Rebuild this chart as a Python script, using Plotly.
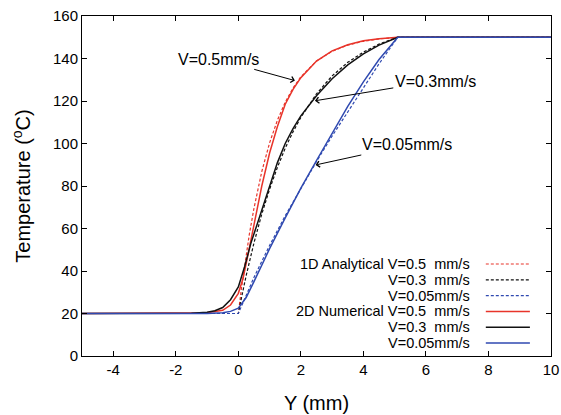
import plotly.graph_objects as go

# ---- data ----
x_an05 = [-5, 0, 0.1, 0.2, 0.35, 0.5, 0.75, 1.0, 1.25, 1.5, 1.75, 2.0, 2.5, 3.0, 3.5, 4.0, 4.5, 5.1, 10]
t_an05 = [20, 20, 31.9, 42.7, 57.1, 69.5, 86.8, 100.3, 111.0, 119.4, 126.1, 131.4, 138.8, 143.4, 146.3, 148.1, 149.2, 150, 150]

x_an03 = [-5, 0, 0.1, 0.25, 0.5, 0.75, 1.0, 1.25, 1.5, 1.75, 2.0, 2.5, 3.0, 3.5, 4.0, 4.5, 5.1, 10]
t_an03 = [20, 20, 27.4, 37.8, 53.2, 66.8, 78.5, 88.8, 97.8, 105.5, 112.3, 123.4, 131.8, 138.2, 143.0, 146.8, 150, 150]

x_an005 = [-5, 0, 0.5, 1.0, 1.5, 2.0, 2.5, 3.0, 3.5, 4.0, 4.5, 5.1, 10]
t_an005 = [20, 20, 37, 52, 66, 79, 91.5, 103.5, 115, 126.5, 137.5, 150, 150]

x_nu05 = [-5, -1.5, -1.0, -0.5, -0.25, 0, 0.15, 0.3, 0.5, 0.75, 1.0, 1.25, 1.5, 1.75, 2.0, 2.5, 3.0, 3.5, 4.0, 4.5, 5.1, 10]
t_nu05 = [20, 20, 20.3, 21.5, 24, 29.5, 36.5, 47, 62, 80, 95.5, 108, 118.5, 125.5, 131, 138.8, 143.6, 146.5, 148.3, 149.3, 150, 150]

x_nu03 = [-5, -1.5, -1.0, -0.75, -0.5, -0.25, 0, 0.2, 0.4, 0.75, 1.0, 1.25, 1.5, 1.75, 2.0, 2.5, 3.0, 3.5, 4.0, 4.5, 5.1, 10]
t_nu03 = [20, 20.1, 20.6, 21.3, 22.8, 26.5, 32.5, 42, 53, 69, 80.5, 91, 100, 107, 113, 122.5, 130.5, 137, 142.2, 146.3, 150, 150]

x_nu005 = [-5, -1.0, -0.5, -0.25, 0, 0.25, 0.5, 0.75, 1.0, 1.5, 2.0, 2.5, 3.0, 3.5, 4.0, 4.5, 5.1, 10]
t_nu005 = [20, 20, 20.4, 21, 22.5, 27.5, 35, 43, 50.5, 65, 79, 92, 105, 117.5, 129, 139.5, 150, 150]

legend_labels = ["1D Analytical V=0.5\u00a0\u00a0mm/s", "V=0.3\u00a0\u00a0mm/s", "V=0.05mm/s",
                 "2D Numerical V=0.5\u00a0\u00a0mm/s", "V=0.3\u00a0\u00a0mm/s", "V=0.05mm/s"]

x_ticks = [-4, -2, 0, 2, 4, 6, 8, 10]
y_ticks = [0, 20, 40, 60, 80, 100, 120, 140, 160]

RED = "#e8342a"
BLACK = "#111111"
BLUE = "#2f49b0"
DASH = "3px,2px"

series = [
    (x_an05, t_an05, RED, DASH),
    (x_an03, t_an03, BLACK, DASH),
    (x_an005, t_an005, BLUE, DASH),
    (x_nu05, t_nu05, RED, "solid"),
    (x_nu03, t_nu03, BLACK, "solid"),
    (x_nu005, t_nu005, BLUE, "solid"),
]

FONT = "Liberation Sans, Arial, Helvetica, sans-serif"

fig = go.Figure()
for xs, ts, col, dash in series:
    fig.add_trace(go.Scatter(x=xs, y=ts, mode="lines",
                             line=dict(color=col, width=1.5 if dash == "solid" else 1.2, dash=dash),
                             showlegend=False, hoverinfo="skip"))

# manual legend (text right-aligned, line sample to the right)
row_y = [0.2706, 0.224, 0.1776, 0.1312, 0.0847, 0.0382]
for i, (lab, (xs, ts, col, dash)) in enumerate(zip(legend_labels, series)):
    fig.add_annotation(xref="paper", yref="paper", x=0.8316, y=row_y[i], text=lab,
                       showarrow=False, xanchor="right", yanchor="middle",
                       font=dict(family=FONT, size=14.5, color="black"))
    fig.add_shape(type="line", xref="paper", yref="paper", x0=0.861, x1=0.955,
                  y0=row_y[i], y1=row_y[i],
                  line=dict(color=col, width=1.5 if dash == "solid" else 1.2, dash=dash))

# arrow annotations
arrows = [
    ("V=0.5mm/s", 1.81, 129.6, -0.65, 139.6),
    ("V=0.3mm/s", 2.45, 120.1, 6.30, 129.4),
    ("V=0.05mm/s", 2.47, 89.9, 5.40, 99.3),
]
for txt, tx, ty, lx, ly in arrows:
    fig.add_annotation(x=tx, y=ty, ax=lx, ay=ly, axref="x", ayref="y", xref="x", yref="y",
                       text=txt, showarrow=True, arrowhead=4, arrowsize=1.2, arrowwidth=1,
                       arrowcolor="black", font=dict(family=FONT, size=16, color="black"))

axis_common = dict(showline=True, linecolor="black", linewidth=1, mirror="ticks",
                   ticks="inside", ticklen=5, tickcolor="black", showgrid=False, zeroline=False,
                   automargin=False,
                   tickfont=dict(family=FONT, size=15, color="black"))

fig.update_xaxes(range=[-5, 10], tickvals=x_ticks, ticktext=[str(v) for v in x_ticks],
                 title=dict(text="Y (mm)", font=dict(family=FONT, size=20, color="black"), standoff=18),
                 **axis_common)
fig.update_yaxes(range=[0, 160], tickvals=y_ticks, ticktext=[str(v) for v in y_ticks],
                 title=dict(text="Temperature (<sup>o</sup>C)", font=dict(family=FONT, size=20, color="black"), standoff=16),
                 **axis_common)

fig.update_layout(width=561, height=415, margin=dict(l=82, r=10, t=16, b=59),
                  plot_bgcolor="white", paper_bgcolor="white",
                  font=dict(family=FONT, color="black"))

fig.write_html("out.html")
